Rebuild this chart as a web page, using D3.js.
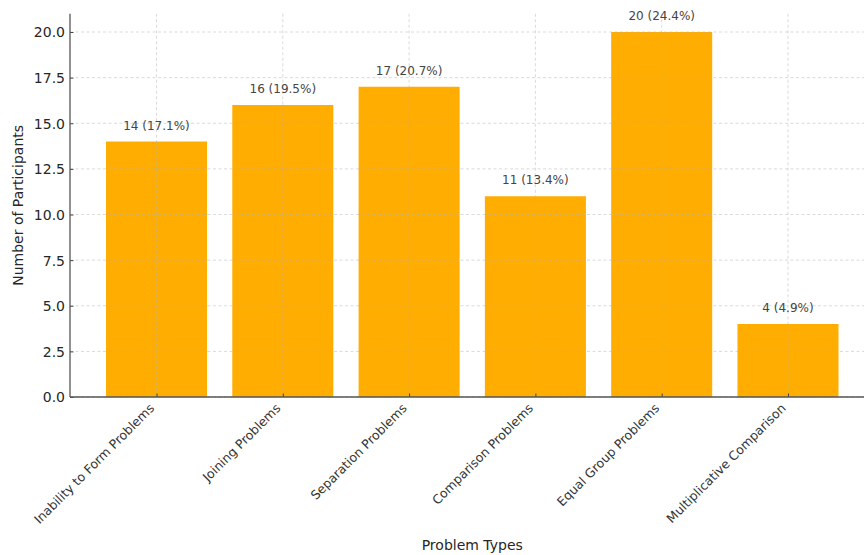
<!DOCTYPE html>
<html><head><meta charset="utf-8">
<script src="https://cdn.jsdelivr.net/npm/d3@7"></script>
<style>body{margin:0;background:#fff}svg{display:block}text{font-family:"DejaVu Sans",sans-serif}</style>
</head><body>
<svg id="c" width="864" height="555"></svg>
<script>
const categories = ["Inability to Form Problems","Joining Problems","Separation Problems","Comparison Problems","Equal Group Problems","Multiplicative Comparison"];
const counts = [14,16,17,11,20,4];
const percentLabels = ["17.1%","19.5%","20.7%","13.4%","24.4%","4.9%"];
const yTicks = [0,2.5,5,7.5,10,12.5,15,17.5,20];

const svg = d3.select("#c");
const x0 = 70, yBottom = 397;
const x = d3.scaleLinear().domain([-0.685, 5.685]).range([x0, 874.5]);
const y = d3.scaleLinear().domain([0, 21]).range([yBottom, 13.75]);
const barW = x(0.4) - x(-0.4);

// bars
svg.append("g").selectAll("rect").data(counts).join("rect")
  .attr("x", (d,i)=>x(i)-barW/2).attr("width", barW)
  .attr("y", d=>y(d)).attr("height", d=>y(0)-y(d))
  .attr("fill", "#ffad00");

// grid (drawn above bars)
const grid = svg.append("g").attr("stroke", "#b0b0b0").attr("stroke-opacity", 0.6)
  .attr("stroke-width", 0.8).attr("stroke-dasharray", "3,2.5");
grid.selectAll("line.h").data(yTicks).join("line").attr("class","h")
  .attr("x1", x0).attr("x2", 864).attr("y1", d=>y(d)).attr("y2", d=>y(d));
grid.selectAll("line.v").data(categories).join("line").attr("class","v")
  .attr("x1", (d,i)=>x(i)).attr("x2", (d,i)=>x(i)).attr("y1", y(21)).attr("y2", yBottom);

// y axis
const yAxis = svg.append("g").attr("transform", `translate(${x0},0)`)
  .call(d3.axisLeft(y).tickValues(yTicks).tickFormat(d3.format(".1f")).tickSizeInner(-3.5).tickSizeOuter(0).tickPadding(5));
yAxis.select(".domain").remove();
yAxis.selectAll(".tick line").attr("stroke", "#444");
yAxis.selectAll(".tick text").attr("font-size", 14).attr("fill", "#262626")
  .attr("x", -5).attr("dy", "0.35em");
svg.append("line").attr("x1", x0).attr("x2", x0).attr("y1", y(21)).attr("y2", yBottom)
  .attr("stroke", "#555").attr("stroke-width", 1.3);

// x axis
const xAxis = svg.append("g").attr("transform", `translate(0,${yBottom})`)
  .call(d3.axisBottom(x).tickValues(d3.range(categories.length)).tickFormat(i=>categories[i]).tickSizeInner(-3.5).tickSizeOuter(0));
xAxis.select(".domain").remove();
xAxis.selectAll(".tick line").attr("stroke", "#444");
xAxis.selectAll(".tick text").attr("font-size", 12.5).attr("fill", "#333")
  .attr("text-anchor", "end").attr("y", 0).attr("dy", 0)
  .attr("transform", "translate(-2,12) rotate(-45)");
svg.append("line").attr("x1", x0).attr("x2", 864).attr("y1", yBottom).attr("y2", yBottom)
  .attr("stroke", "#555").attr("stroke-width", 1.3);

// bar labels
svg.append("g").selectAll("text").data(counts).join("text")
  .attr("x", (d,i)=>x(i)).attr("y", d=>y(d)-12)
  .attr("text-anchor", "middle").attr("font-size", 12).attr("fill", "#444")
  .text((d,i)=>`${d} (${percentLabels[i]})`);

// axis titles
svg.append("text").attr("transform", `translate(23,${(y(21)+yBottom)/2}) rotate(-90)`)
  .attr("text-anchor", "middle").attr("font-size", 14).attr("fill", "#262626").text("Number of Participants");
svg.append("text").attr("x", (x0+874.5)/2).attr("y", 550)
  .attr("text-anchor", "middle").attr("font-size", 14).attr("fill", "#262626").text("Problem Types");
</script>
</body></html>
